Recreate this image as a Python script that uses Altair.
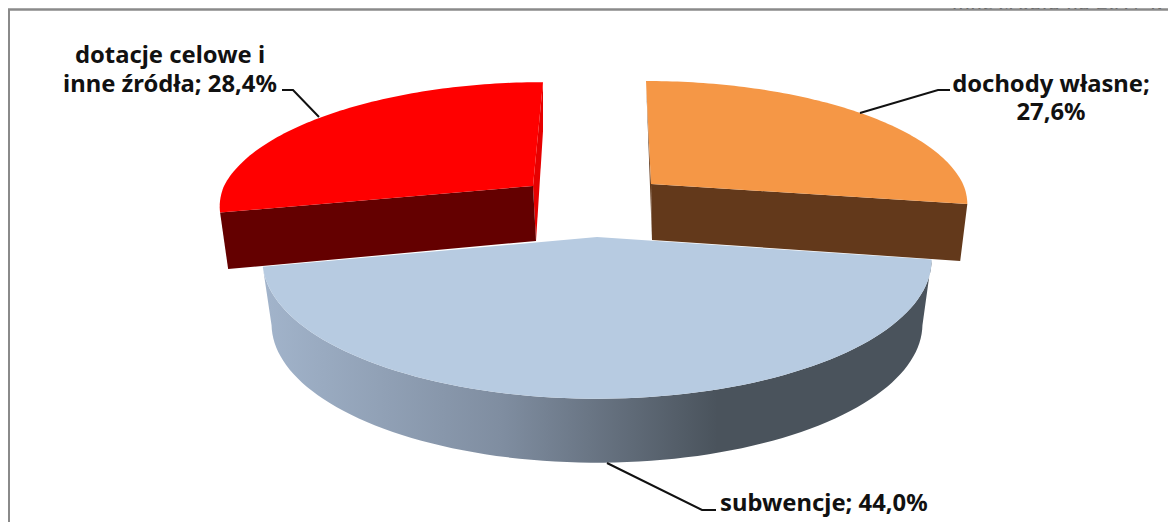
import numpy as np
import pandas as pd
import altair as alt

# --- data
categories = ["dochody własne", "subwencje", "dotacje celowe i inne źródła"]
shares = [27.6, 44.0, 28.4]
label_lines = ["dotacje celowe i", "inne źródła; 28,4%", "dochody własne;", "27,6%", "subwencje; 44,0%"]
label_x = [170, 170, 1051, 1051, 720]
label_y = [63, 92, 92, 120, 511]
label_align = ["center", "center", "center", "center", "left"]
header_text = "inne źródła na 2017 r."

# --- styling / 3-D geometry of the drawing
ORANGE, BROWN = "#f59746", "#63391b"
RED, DARKRED, REDSIDE = "#ff0000", "#640000", "#e60000"
BLUE = "#b7cbe1"
FRAME = "#8a8a8a"
FONT = "Noto Sans"
PERSP = 0.165

edges = np.concatenate([[0], np.cumsum(shares)]) / sum(shares) * 360.0


def rim(c, rx, ry, lean, a0, a1, n=90):
    phi = np.radians(np.linspace(a0, a1, n))
    s, k = np.sin(phi), np.cos(phi)
    w = 1 + PERSP * k
    x = c[0] + rx * s / w + lean * np.clip(k, 0, None)
    y = c[1] - ry * k / w
    return list(zip(x, y))


layers = []
X = alt.Scale(domain=[8, 1168])
Y = alt.Scale(domain=[8, 522], reverse=True)


def poly(points, fill):
    df = pd.DataFrame(points, columns=["x", "y"])
    df["i"] = range(len(df))
    return alt.Chart(df).mark_line(filled=True, fill=fill, strokeWidth=0, stroke=None).encode(
        x=alt.X("x:Q", scale=X, axis=None),
        y=alt.Y("y:Q", scale=Y, axis=None),
        order="i:Q",
    )


# blue slice: wall, then top
a0, a1 = edges[1], edges[2]
blue_c, blue_base = (597, 237), (597, 301)
top_arc = rim(blue_c, 330, 135, 0, a0, a1)
base_arc = rim(blue_base, 321, 135, 0, 100, 260)
gradient = alt.Gradient(
    gradient="linear", x1=0, x2=1, y1=0, y2=0,
    stops=[
        alt.GradientStop(color="#a2b4cb", offset=0),
        alt.GradientStop(color="#7f8da0", offset=0.36),
        alt.GradientStop(color="#4a535c", offset=0.68),
        alt.GradientStop(color="#4a535c", offset=1),
    ],
)
layers.append(poly(top_arc + base_arc[::-1], gradient))
layers.append(poly([blue_c] + top_arc, BLUE))

# orange slice
a0, a1 = edges[0], edges[1]
oc, ob = (651, 184), (652, 240)
otop, obase = (312, 120, -5), (304, 125, -4)
layers.append(poly([oc, rim(oc, *otop, a0, a0, 1)[0], rim(ob, *obase, a0, a0, 1)[0], ob], BROWN))
layers.append(poly([oc, rim(oc, *otop, a1, a1, 1)[0], rim(ob, *obase, a1, a1, 1)[0], ob], BROWN))
layers.append(poly([oc] + rim(oc, *otop, a0, a1), ORANGE))

# red slice
a0, a1 = edges[2], edges[3]
rc, rb = (533, 186), (536, 241)
rtop, rbase = (309, 121, 10), (304, 128, 7)
layers.append(poly([rc, rim(rc, *rtop, a1, a1, 1)[0], rim(rb, *rbase, a1, a1, 1)[0], rb], REDSIDE))
layers.append(poly([rc, rim(rc, *rtop, a0, a0, 1)[0], rim(rb, *rbase, a0, a0, 1)[0], rb], DARKRED))
layers.append(poly([rc] + rim(rc, *rtop, a0, a1), RED))


# leader lines
def leader(xs, ys):
    df = pd.DataFrame({"x": xs, "y": ys, "i": range(len(xs))})
    return alt.Chart(df).mark_line(color="#111111", strokeWidth=2).encode(
        x=alt.X("x:Q", scale=X, axis=None),
        y=alt.Y("y:Q", scale=Y, axis=None),
        order="i:Q",
    )


layers.append(leader([282, 293, 319], [90, 90, 117]))
layers.append(leader([860, 938, 950], [113, 90, 90]))
layers.append(leader([607, 702, 716], [463, 510, 510]))

# running header, cut off by the top of the crop
layers.append(
    alt.Chart(pd.DataFrame({"t": [header_text], "x": [952], "y": [10]})).mark_text(
        font="Liberation Serif", fontStyle="italic", fontSize=24, color="#111111", align="left", baseline="alphabetic"
    ).encode(
        x=alt.X("x:Q", scale=X, axis=None),
        y=alt.Y("y:Q", scale=Y, axis=None),
        text="t:N",
    )
)

# frame of the chart (top and left sides only are in the crop)
frame = pd.DataFrame({"x": [8.7, 8.7, 1176], "y": [522, 9.5, 9.5], "i": [0, 1, 2]})
layers.append(
    alt.Chart(frame).mark_line(color=FRAME, strokeWidth=2.6).encode(
        x=alt.X("x:Q", scale=X, axis=None),
        y=alt.Y("y:Q", scale=Y, axis=None),
        order="i:Q",
    )
)

# labels
labels = pd.DataFrame({"t": label_lines, "x": label_x, "y": label_y, "a": label_align})
for al in ["center", "left"]:
    layers.append(
        alt.Chart(labels[labels["a"] == al]).mark_text(
            font=FONT, fontWeight="bold", fontSize=23.8, color="#111111", align=al, baseline="alphabetic"
        ).encode(
            x=alt.X("x:Q", scale=X, axis=None),
            y=alt.Y("y:Q", scale=Y, axis=None),
            text="t:N",
        )
    )

chart = (
    alt.layer(*layers)
    .properties(
        width=1160,
        height=514,
        padding=0,
        autosize=alt.AutoSizeParams(type="none"),
        background="white",
    )
    .configure_view(stroke=None)
)

chart.save("out.html", embed_options={"renderer": "svg", "actions": False})
